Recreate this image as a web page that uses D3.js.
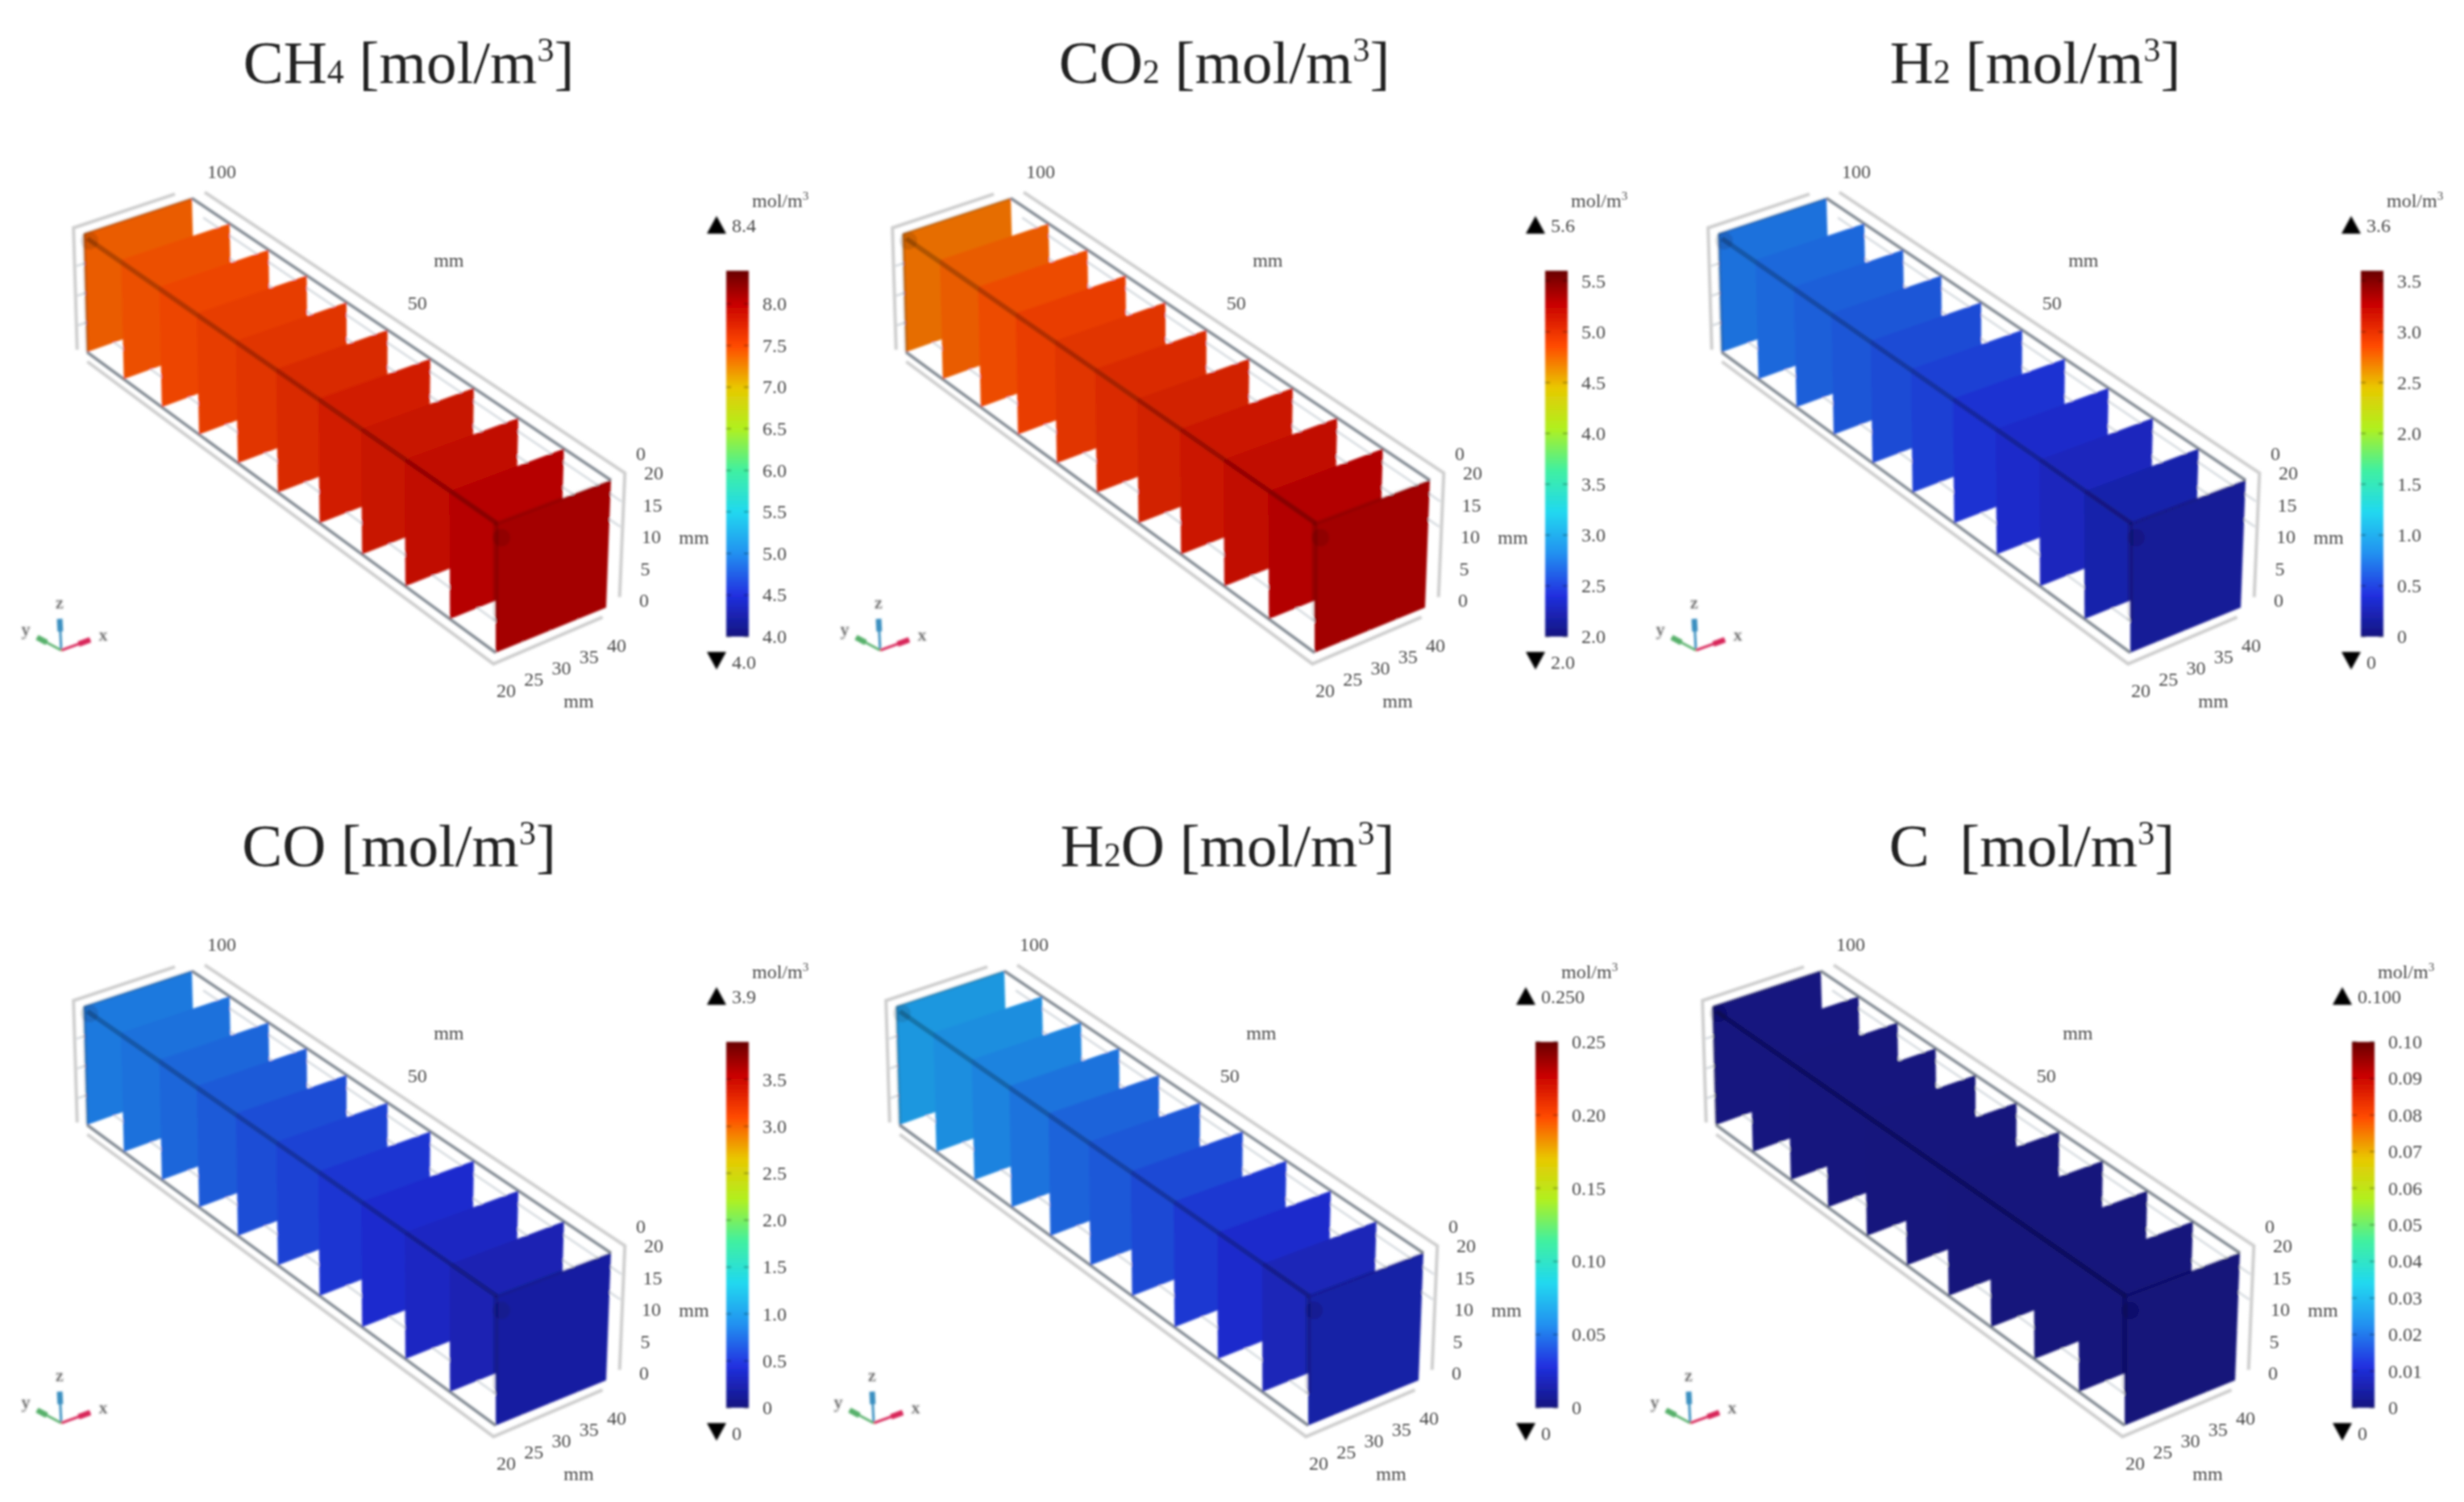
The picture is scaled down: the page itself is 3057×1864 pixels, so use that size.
<!DOCTYPE html>
<html>
<head>
<meta charset="utf-8" />
<title>Species concentration slices</title>
<script src="https://d3js.org/d3.v7.min.js"></script>
<style>
  html, body { margin: 0; background: #fff; }
  text { font-family: "Liberation Serif", serif; white-space: pre; }
</style>
</head>
<body>
<script>
// one entry per panel
const titles = [
  [["CH"], ["4", "sub"], [" [mol/m"], ["3", "sup"], ["]"]],
  [["CO"], ["2", "sub"], [" [mol/m"], ["3", "sup"], ["]"]],
  [["H"], ["2", "sub"], [" [mol/m"], ["3", "sup"], ["]"]],
  [["CO [mol/m"], ["3", "sup"], ["]"]],
  [["H"], ["2", "sub"], ["O [mol/m"], ["3", "sup"], ["]"]],
  [["C  [mol/m"], ["3", "sup"], ["]"]]
];
const titleX = [507, 1519, 2525, 495, 1523, 2521];
const titleY = [103, 103, 103, 1075, 1075, 1075];
const plotDx = [0, 1016, 2028, 0, 1008, 2021];
const plotDy = [0, 0, 0, 959, 959, 959];
const barDx = [0, 1016, 2028, 0, 1004, 2017];
const barDy = [0, 0, 0, 957, 957, 957];

const barMin = [4.0, 2.0, 0, 0, 0, 0];
const barMax = [8.4, 5.6, 3.6, 3.9, 0.25, 0.1];
const maxLabels = ["8.4", "5.6", "3.6", "3.9", "0.250", "0.100"];
const minLabels = ["4.0", "2.0", "0", "0", "0", "0"];
const barTicks = [
  ["4.0", "4.5", "5.0", "5.5", "6.0", "6.5", "7.0", "7.5", "8.0"],
  ["2.0", "2.5", "3.0", "3.5", "4.0", "4.5", "5.0", "5.5"],
  ["0", "0.5", "1.0", "1.5", "2.0", "2.5", "3.0", "3.5"],
  ["0", "0.5", "1.0", "1.5", "2.0", "2.5", "3.0", "3.5"],
  ["0", "0.05", "0.10", "0.15", "0.20", "0.25"],
  ["0", "0.01", "0.02", "0.03", "0.04", "0.05", "0.06", "0.07", "0.08", "0.09", "0.10"]
];

// concentration on each slice, far end (y=100) to near end (y=0)
const sliceY = [100, 90, 80, 70, 60, 50, 40, 30, 20, 10, 0];
const ch4 = [7.40, 7.45, 7.50, 7.56, 7.62, 7.70, 7.78, 7.86, 7.94, 8.02, 8.10];
const co2 = [4.72, 4.78, 4.84, 4.90, 4.96, 5.02, 5.08, 5.14, 5.22, 5.30, 5.36];
const h2 = [0.72, 0.68, 0.64, 0.60, 0.55, 0.50, 0.44, 0.38, 0.32, 0.24, 0.15];
const co = [0.82, 0.78, 0.73, 0.67, 0.61, 0.55, 0.49, 0.43, 0.37, 0.30, 0.21];
const h2o = [0.064, 0.060, 0.056, 0.051, 0.046, 0.042, 0.037, 0.032, 0.027, 0.021, 0.015];
const carbon = [0.0010, 0.0010, 0.0009, 0.0009, 0.0008, 0.0008, 0.0007, 0.0007, 0.0006, 0.0006, 0.0005];
const sliceValues = [ch4, co2, h2, co, h2o, carbon];

// measured spacing of the slices on screen (perspective)
const sliceDepth = [1, 0.91, 0.817, 0.726, 0.631, 0.533, 0.431, 0.327, 0.221, 0.112, 0];

const xTicks = [20, 25, 30, 35, 40];
const zTicks = [0, 5, 10, 15, 20];
const yTicks = [0, 50, 100];

// colour table of the bar
const rainbowStops = [0, 0.114, 0.227, 0.34, 0.455, 0.568, 0.68, 0.795, 0.909, 1];
const rainbowColors = ["#14147f", "#2030e0", "#2090f0", "#20d8f0", "#40f0a0", "#b0f020", "#e8c800", "#ff4a00", "#c80000", "#680000"];

const svg = d3.select("body").append("svg")
  .attr("width", 3057).attr("height", 1864);

const defs = svg.append("defs");
defs.append("filter").attr("id", "soft").attr("x", "-5%").attr("y", "-5%").attr("width", "110%").attr("height", "110%")
  .append("feGaussianBlur").attr("stdDeviation", 1.4);
defs.append("filter").attr("id", "softText").attr("x", "-20%").attr("y", "-20%").attr("width", "140%").attr("height", "140%")
  .append("feGaussianBlur").attr("stdDeviation", 1.15);
defs.append("filter").attr("id", "softTitle").attr("x", "-5%").attr("y", "-10%").attr("width", "110%").attr("height", "120%")
  .append("feGaussianBlur").attr("stdDeviation", 0.8);

const rainbow = d3.scaleLinear().domain(rainbowStops).range(rainbowColors);
const fx = d3.scaleLinear().domain([20, 40]).range([0, 1]);
const fz = d3.scaleLinear().domain([0, 20]).range([0, 1]);
const fy = d3.scaleLinear().domain(sliceY).range(sliceDepth);

// box corners on screen: [near x20, near x40, far x20, far x40] for z=0 and z=20
const floorPts = [[615, 810], [752, 754], [108, 437], [242, 389]];
const roofPts = [[615, 650], [758, 596], [104, 290], [238, 246]];

function project(x, y, z) {
  const u = fx(x), t = fy(y), w = fz(z);
  const mix = (p, i) => {
    const near = p[0][i] + (p[1][i] - p[0][i]) * u;
    const far = p[2][i] + (p[3][i] - p[2][i]) * u;
    return near + (far - near) * t;
  };
  return [0, 1].map(i => mix(floorPts, i) + (mix(roofPts, i) - mix(floorPts, i)) * w);
}

const line3d = d3.line().x(d => project(...d)[0]).y(d => project(...d)[1]);

// bounding frame and grid, in mm
const frameLines = [
  [[18.2, 100, 1], [18.8, 101, 20.9], [37.6, 101, 21]],
  [[42.4, 100, 20.3], [42.4, 0, 20.3], [42.4, 0, 0.8]],
  [[39.4, 0, -1.3], [19.6, 0, -1.6], [20, 100, -1.6]]
];
const darkLines = [
  [[20, 100, 0], [20, 0, 0]],
  [[40, 100, 20], [40, 0, 20]]
];
const gridLines = [
  [[25, 100, 0], [25, 0, 0]],
  [[30, 100, 0], [30, 0, 0]],
  [[35, 100, 0], [35, 0, 0]],
  [[42, 100, 16], [42, 0, 16]],
  [[42, 100, 12], [42, 0, 12]],
  [[18.5, 100, 15], [20, 100, 15]],
  [[18.5, 100, 10], [20, 100, 10]],
  [[18.5, 100, 5], [20, 100, 5]]
];

titles.forEach((parts, p) => {
  const title = svg.append("text")
    .attr("x", titleX[p]).attr("y", titleY[p])
    .attr("text-anchor", "middle")
    .attr("font-size", 75).attr("fill", "#222")
    .attr("filter", "url(#softTitle)");
  parts.forEach(part => {
    const t = title.append("tspan").text(part[0]);
    if (part[1]) t.attr("font-size", 42);
    if (part[1] === "sup") t.attr("baseline-shift", "27");
  });

  drawPlot(p);
  drawBar(p);
});

function drawPlot(p) {
  const g = svg.append("g").attr("transform", `translate(${plotDx[p]},${plotDy[p]})`);
  const art = g.append("g").attr("filter", "url(#soft)");
  art.selectAll(".grid").data(gridLines).join("path").attr("class", "grid")
    .attr("d", line3d).attr("fill", "none").attr("stroke", "#d4d9de").attr("stroke-width", 2.5);
  art.selectAll(".frame").data(frameLines).join("path").attr("class", "frame")
    .attr("d", line3d).attr("fill", "none").attr("stroke", "#cdcdcd").attr("stroke-width", 4);
  art.selectAll(".dark").data(darkLines).join("path").attr("class", "dark")
    .attr("d", line3d).attr("fill", "none").attr("stroke", "#7f8790").attr("stroke-width", 3.5);

  // slices go back to front so that the near ones cover the far ones
  const lineSlice = d3.line();
  art.selectAll(".slice").data(sliceY).join("path").attr("class", "slice")
    .attr("d", y => lineSlice([project(20, y, 20), project(40, y, 20), project(40, y, 0), project(20, y, 0)]) + "Z")
    .attr("fill", (y, i) => d3.rgb(rainbow((sliceValues[p][i] - barMin[p]) / (barMax[p] - barMin[p]))).darker(0.2));

  // dark edges where the slice corners line up
  const shade = (pts, op, w) => art.append("path").datum(pts)
    .attr("d", line3d).attr("fill", "none")
    .attr("stroke", "#000").attr("stroke-opacity", op).attr("stroke-width", w);
  shade([[20.6, 100, 19], [20.2, 0, 20]], 0.24, 6);
  shade([[20, 0, 20], [20, 0, 5]], 0.14, 7);
  shade([[20, 100, 20], [20, 100, 0]], 0.2, 4);
  shade([[20, 100, 20], [40, 100, 20]], 0.2, 3);
  shade([[20, 0, 20], [40, 0, 20]], 0.1, 5);
  const spots = [project(21, 100, 18.5), project(21, 0, 17.5)];
  art.selectAll(".spot").data(spots).join("circle").attr("class", "spot")
    .attr("cx", d => d[0]).attr("cy", d => d[1]).attr("r", 11)
    .attr("fill", "#000").attr("fill-opacity", 0.11);

  const labels = g.append("g").attr("filter", "url(#softText)")
    .attr("font-size", 24).attr("fill", "#4a4a4a");
  const at = (sel, fn) => sel.attr("x", d => fn(d)[0]).attr("y", d => fn(d)[1]);

  at(labels.selectAll(".ty").data(yTicks).join("text").attr("class", "ty").attr("text-anchor", "middle").text(d => d),
    d => { const q = project(40, d, 20); return [q[0] + 37, q[1] - 25]; });
  at(labels.selectAll(".tz").data(zTicks).join("text").attr("class", "tz").text(d => d),
    d => { const q = project(40, 0, d); return [q[0] + 41, q[1] - 1]; });
  at(labels.selectAll(".tx").data(xTicks).join("text").attr("class", "tx").attr("text-anchor", "middle").text(d => d),
    d => { const q = project(d, 0, 0); return [q[0] + 13, q[1] + 55]; });

  const mid = project(40, 50, 20);
  labels.append("text").attr("x", mid[0] + 76).attr("y", mid[1] - 78).attr("text-anchor", "middle").text("mm");
  labels.append("text").attr("x", 861).attr("y", 675).attr("text-anchor", "middle").text("mm");
  labels.append("text").attr("x", 718).attr("y", 878).attr("text-anchor", "middle").text("mm");

  // axis triad
  const triad = [["#3a8fc0", [74, 768], "z", [74, 755]], ["#57b06a", [46, 791], "y", [32, 788]], ["#d8285a", [112, 794], "x", [128, 795]]];
  const tg = g.append("g").attr("filter", "url(#soft)");
  triad.forEach(a => {
    tg.append("line").attr("x1", 76).attr("y1", 807).attr("x2", a[1][0]).attr("y2", a[1][1])
      .attr("stroke", a[0]).attr("stroke-width", 3);
    const tip = d3.interpolate([76, 807], a[1])(0.6);
    tg.append("line").attr("x1", tip[0]).attr("y1", tip[1]).attr("x2", a[1][0]).attr("y2", a[1][1])
      .attr("stroke", a[0]).attr("stroke-width", 7);
    tg.append("text").attr("x", a[3][0]).attr("y", a[3][1]).attr("text-anchor", "middle")
      .attr("font-size", 22).attr("fill", "#333").text(a[2]);
  });
}

function drawBar(p) {
  const g = svg.append("g").attr("transform", `translate(${barDx[p]},${barDy[p]})`);
  const y = d3.scaleLinear().domain([barMin[p], barMax[p]]).range([790, 336]);
  const barX = 901, barW = 28;

  const grad = defs.append("linearGradient").attr("id", "bar" + p)
    .attr("x1", 0).attr("y1", 1).attr("x2", 0).attr("y2", 0);
  rainbowStops.forEach((s, i) => grad.append("stop").attr("offset", s).attr("stop-color", rainbowColors[i]));

  const art = g.append("g").attr("filter", "url(#soft)");
  art.append("rect").attr("x", barX).attr("y", y(barMax[p])).attr("width", barW)
    .attr("height", y(barMin[p]) - y(barMax[p])).attr("fill", `url(#bar${p})`);
  art.selectAll("path.tick").data(barTicks[p]).join("path").attr("class", "tick")
    .attr("d", d => `M${barX},${y(+d)}h6M${barX + barW - 6},${y(+d)}h6`)
    .attr("stroke", "#000").attr("stroke-opacity", 0.45).attr("stroke-width", 1.5);
  art.append("path").attr("d", "M889,268l-12,22h24Z").attr("fill", "#000");
  art.append("path").attr("d", "M889,831l-12,-22h24Z").attr("fill", "#000");

  const labels = g.append("g").attr("filter", "url(#softText)")
    .attr("font-size", 24).attr("fill", "#4a4a4a");
  labels.selectAll("text.tick").data(barTicks[p]).join("text").attr("class", "tick")
    .attr("x", barX + barW + 17).attr("y", d => y(+d) + 8).text(d => d);
  labels.append("text").attr("x", 908).attr("y", 288).text(maxLabels[p]);
  labels.append("text").attr("x", 908).attr("y", 830).text(minLabels[p]);
  const unit = labels.append("text").attr("x", 933).attr("y", 257);
  unit.append("tspan").text("mol/m");
  unit.append("tspan").attr("font-size", 15).attr("baseline-shift", "9").text("3");
}
</script>
</body>
</html>
